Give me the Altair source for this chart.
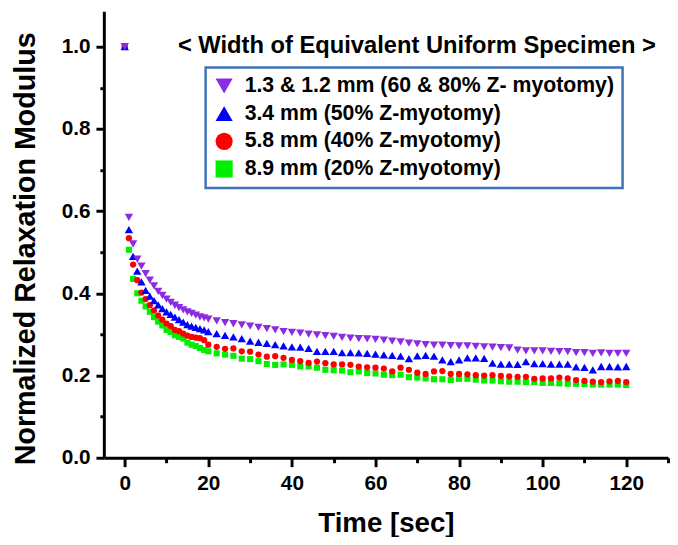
import altair as alt
import pandas as pd

# ---- data ----
t_early = list(range(1, 21))
t_late = list(range(22, 121, 2))
times = [0] + t_early + t_late

labels = [
    "1.3 & 1.2 mm (60 & 80% Z- myotomy)",
    "3.4 mm (50% Z-myotomy)",
    "5.8 mm (40% Z-myotomy)",
    "8.9 mm (20% Z-myotomy)",
]
colors = ["#8B2BE2", "#0000FF", "#FF0000", "#00EE00"]
shapes = ["triangle-down", "triangle-up", "circle", "square"]
sizes = [72, 72, 40, 38]

purple = [1.0,
    0.585, 0.52, 0.483, 0.466, 0.448, 0.432, 0.418, 0.405, 0.395, 0.386,
    0.378, 0.371, 0.365, 0.36, 0.355, 0.351, 0.347, 0.343, 0.34, 0.337,
    0.333, 0.329, 0.326, 0.323, 0.32, 0.317, 0.314, 0.311, 0.307, 0.305,
    0.303, 0.301, 0.299, 0.297, 0.295, 0.293, 0.291, 0.290, 0.289, 0.288,
    0.286, 0.284, 0.282, 0.279, 0.277, 0.275, 0.274, 0.274, 0.273, 0.272,
    0.272, 0.271, 0.270, 0.269, 0.268, 0.267, 0.262, 0.260, 0.260, 0.260,
    0.259, 0.258, 0.258, 0.256, 0.256, 0.254, 0.255, 0.254, 0.254, 0.254]
blue = [1.0,
    0.555, 0.49, 0.454, 0.428, 0.407, 0.393, 0.382, 0.372, 0.363, 0.355,
    0.349, 0.342, 0.336, 0.33, 0.324, 0.32, 0.317, 0.314, 0.311, 0.307,
    0.302, 0.298, 0.294, 0.29, 0.284, 0.281, 0.278, 0.275, 0.272, 0.270,
    0.269, 0.266, 0.259, 0.259, 0.259, 0.256, 0.256, 0.255, 0.254, 0.252,
    0.25, 0.249, 0.247, 0.241, 0.248, 0.249, 0.247, 0.238, 0.234, 0.238,
    0.243, 0.243, 0.242, 0.23, 0.228, 0.228, 0.227, 0.234, 0.229, 0.229,
    0.228, 0.228, 0.228, 0.221, 0.22, 0.214, 0.222, 0.222, 0.221, 0.222]
red = [1.0,
    0.534, 0.47, 0.432, 0.402, 0.386, 0.371, 0.358, 0.346, 0.336, 0.326,
    0.32, 0.311, 0.308, 0.302, 0.297, 0.294, 0.292, 0.291, 0.286, 0.275,
    0.27, 0.265, 0.266, 0.259, 0.258, 0.251, 0.246, 0.247, 0.243, 0.238,
    0.235, 0.231, 0.234, 0.23, 0.227, 0.227, 0.226, 0.222, 0.22, 0.219,
    0.217, 0.21, 0.219, 0.214, 0.207, 0.204, 0.21, 0.211, 0.204, 0.204,
    0.203, 0.201, 0.2, 0.201, 0.199, 0.198, 0.197, 0.197, 0.192, 0.193,
    0.193, 0.195, 0.193, 0.189, 0.187, 0.185, 0.184, 0.186, 0.187, 0.184]
green = [1.0,
    0.506, 0.435, 0.40, 0.382, 0.368, 0.355, 0.342, 0.331, 0.322, 0.311,
    0.306, 0.298, 0.294, 0.29, 0.28, 0.275, 0.272, 0.267, 0.262, 0.259,
    0.254, 0.251, 0.248, 0.241, 0.24, 0.235, 0.228, 0.226, 0.227, 0.226,
    0.222, 0.222, 0.219, 0.214, 0.213, 0.212, 0.208, 0.21, 0.206, 0.205,
    0.202, 0.201, 0.202, 0.196, 0.195, 0.193, 0.191, 0.191, 0.189, 0.192,
    0.192, 0.19, 0.188, 0.188, 0.186, 0.185, 0.185, 0.184, 0.184, 0.182,
    0.182, 0.181, 0.18, 0.18, 0.179, 0.178, 0.178, 0.178, 0.178, 0.177]

x_major = [0, 20, 40, 60, 80, 100, 120]
x_minor = [10, 30, 50, 70, 90, 110, 130]
y_major = [0.0, 0.2, 0.4, 0.6, 0.8, 1.0]
y_minor = [0.1, 0.3, 0.5, 0.7, 0.9]

title_text = "< Width of Equivalent Uniform Specimen >"
FONT = "Liberation Sans"

# drawing order: green first, purple on top
rows = []
for idx, vals in [(3, green), (2, red), (1, blue), (0, purple)]:
    for t, v in zip(times, vals):
        rows.append({"time": t, "value": v, "series": labels[idx], "sz": sizes[idx]})
df = pd.DataFrame(rows)

xscale = alt.Scale(domain=[-5, 130], nice=False, zero=False)
yscale = alt.Scale(domain=[0, 1.0864], nice=False, zero=False)
cscale = alt.Scale(domain=labels, range=colors)
sscale = alt.Scale(domain=labels, range=shapes)
leg = alt.Legend(title=None, symbolSize=300)

points = alt.Chart(df).mark_point(filled=True, opacity=1, strokeWidth=0).encode(
    x=alt.X("time:Q", scale=xscale, axis=alt.Axis(
        values=x_major, orient="bottom", title="Time [sec]", grid=False,
        tickSize=9, tickWidth=3, tickColor="black", domainWidth=3, domainColor="black",
        labelFont=FONT, labelFontSize=21, labelFontWeight="bold", labelColor="black",
        labelPadding=6, titleFont=FONT, titleFontSize=28, titleFontWeight="bold",
        titleColor="black", titlePadding=17)),
    y=alt.Y("value:Q", scale=yscale, axis=alt.Axis(
        values=y_major, format=".1f", orient="left", title="Normalized Relaxation Modulus",
        grid=False, tickSize=8, tickWidth=3, tickColor="black", domainWidth=3,
        domainColor="black", labelFont=FONT, labelFontSize=21, labelFontWeight="bold",
        labelColor="black", labelPadding=6, titleFont=FONT, titleFontSize=29,
        titleFontWeight="bold", titleColor="black", titleX=-70, titleY=240,
        titleBaseline="alphabetic")),
    color=alt.Color("series:N", scale=cscale, legend=leg),
    shape=alt.Shape("series:N", scale=sscale, legend=leg),
    size=alt.Size("sz:Q", scale=None),
)

minor = alt.Chart(df).mark_point(opacity=0).encode(
    x=alt.X("time:Q", scale=xscale, axis=alt.Axis(
        values=x_minor, orient="bottom", labels=False, domain=False, grid=False,
        tickSize=5, tickWidth=3, tickColor="black", title=None)),
    y=alt.Y("value:Q", scale=yscale, axis=alt.Axis(
        values=y_minor, orient="left", labels=False, domain=False, grid=False,
        tickSize=4, tickWidth=3, tickColor="black", title=None)),
)

title_mark = alt.Chart(pd.DataFrame({"t": [title_text]})).mark_text(
    align="left", baseline="middle", font=FONT, fontSize=24, fontWeight="bold", color="black"
).encode(x=alt.value(75), y=alt.value(35), text="t:N")

chart = alt.layer(minor, points, title_mark).resolve_axis(
    x="independent", y="independent"
).properties(
    width=571, height=452,
    autosize=alt.AutoSizeParams(type="none"),
    padding={"left": 97, "top": 0, "right": 2, "bottom": 77},
).configure_view(stroke=None).configure_legend(
    orient="none", legendX=103, legendY=57, strokeColor="#3F73B6", strokeWidth=2.5,
    fillColor="white", padding=8, labelFont=FONT, labelFontSize=21.5, labelFontWeight="bold",
    labelColor="black", labelLimit=600, symbolSize=300, rowPadding=5, labelOffset=10,
    symbolStrokeWidth=0,
)

chart.save("out.html", embed_options={"renderer": "svg", "actions": False})
